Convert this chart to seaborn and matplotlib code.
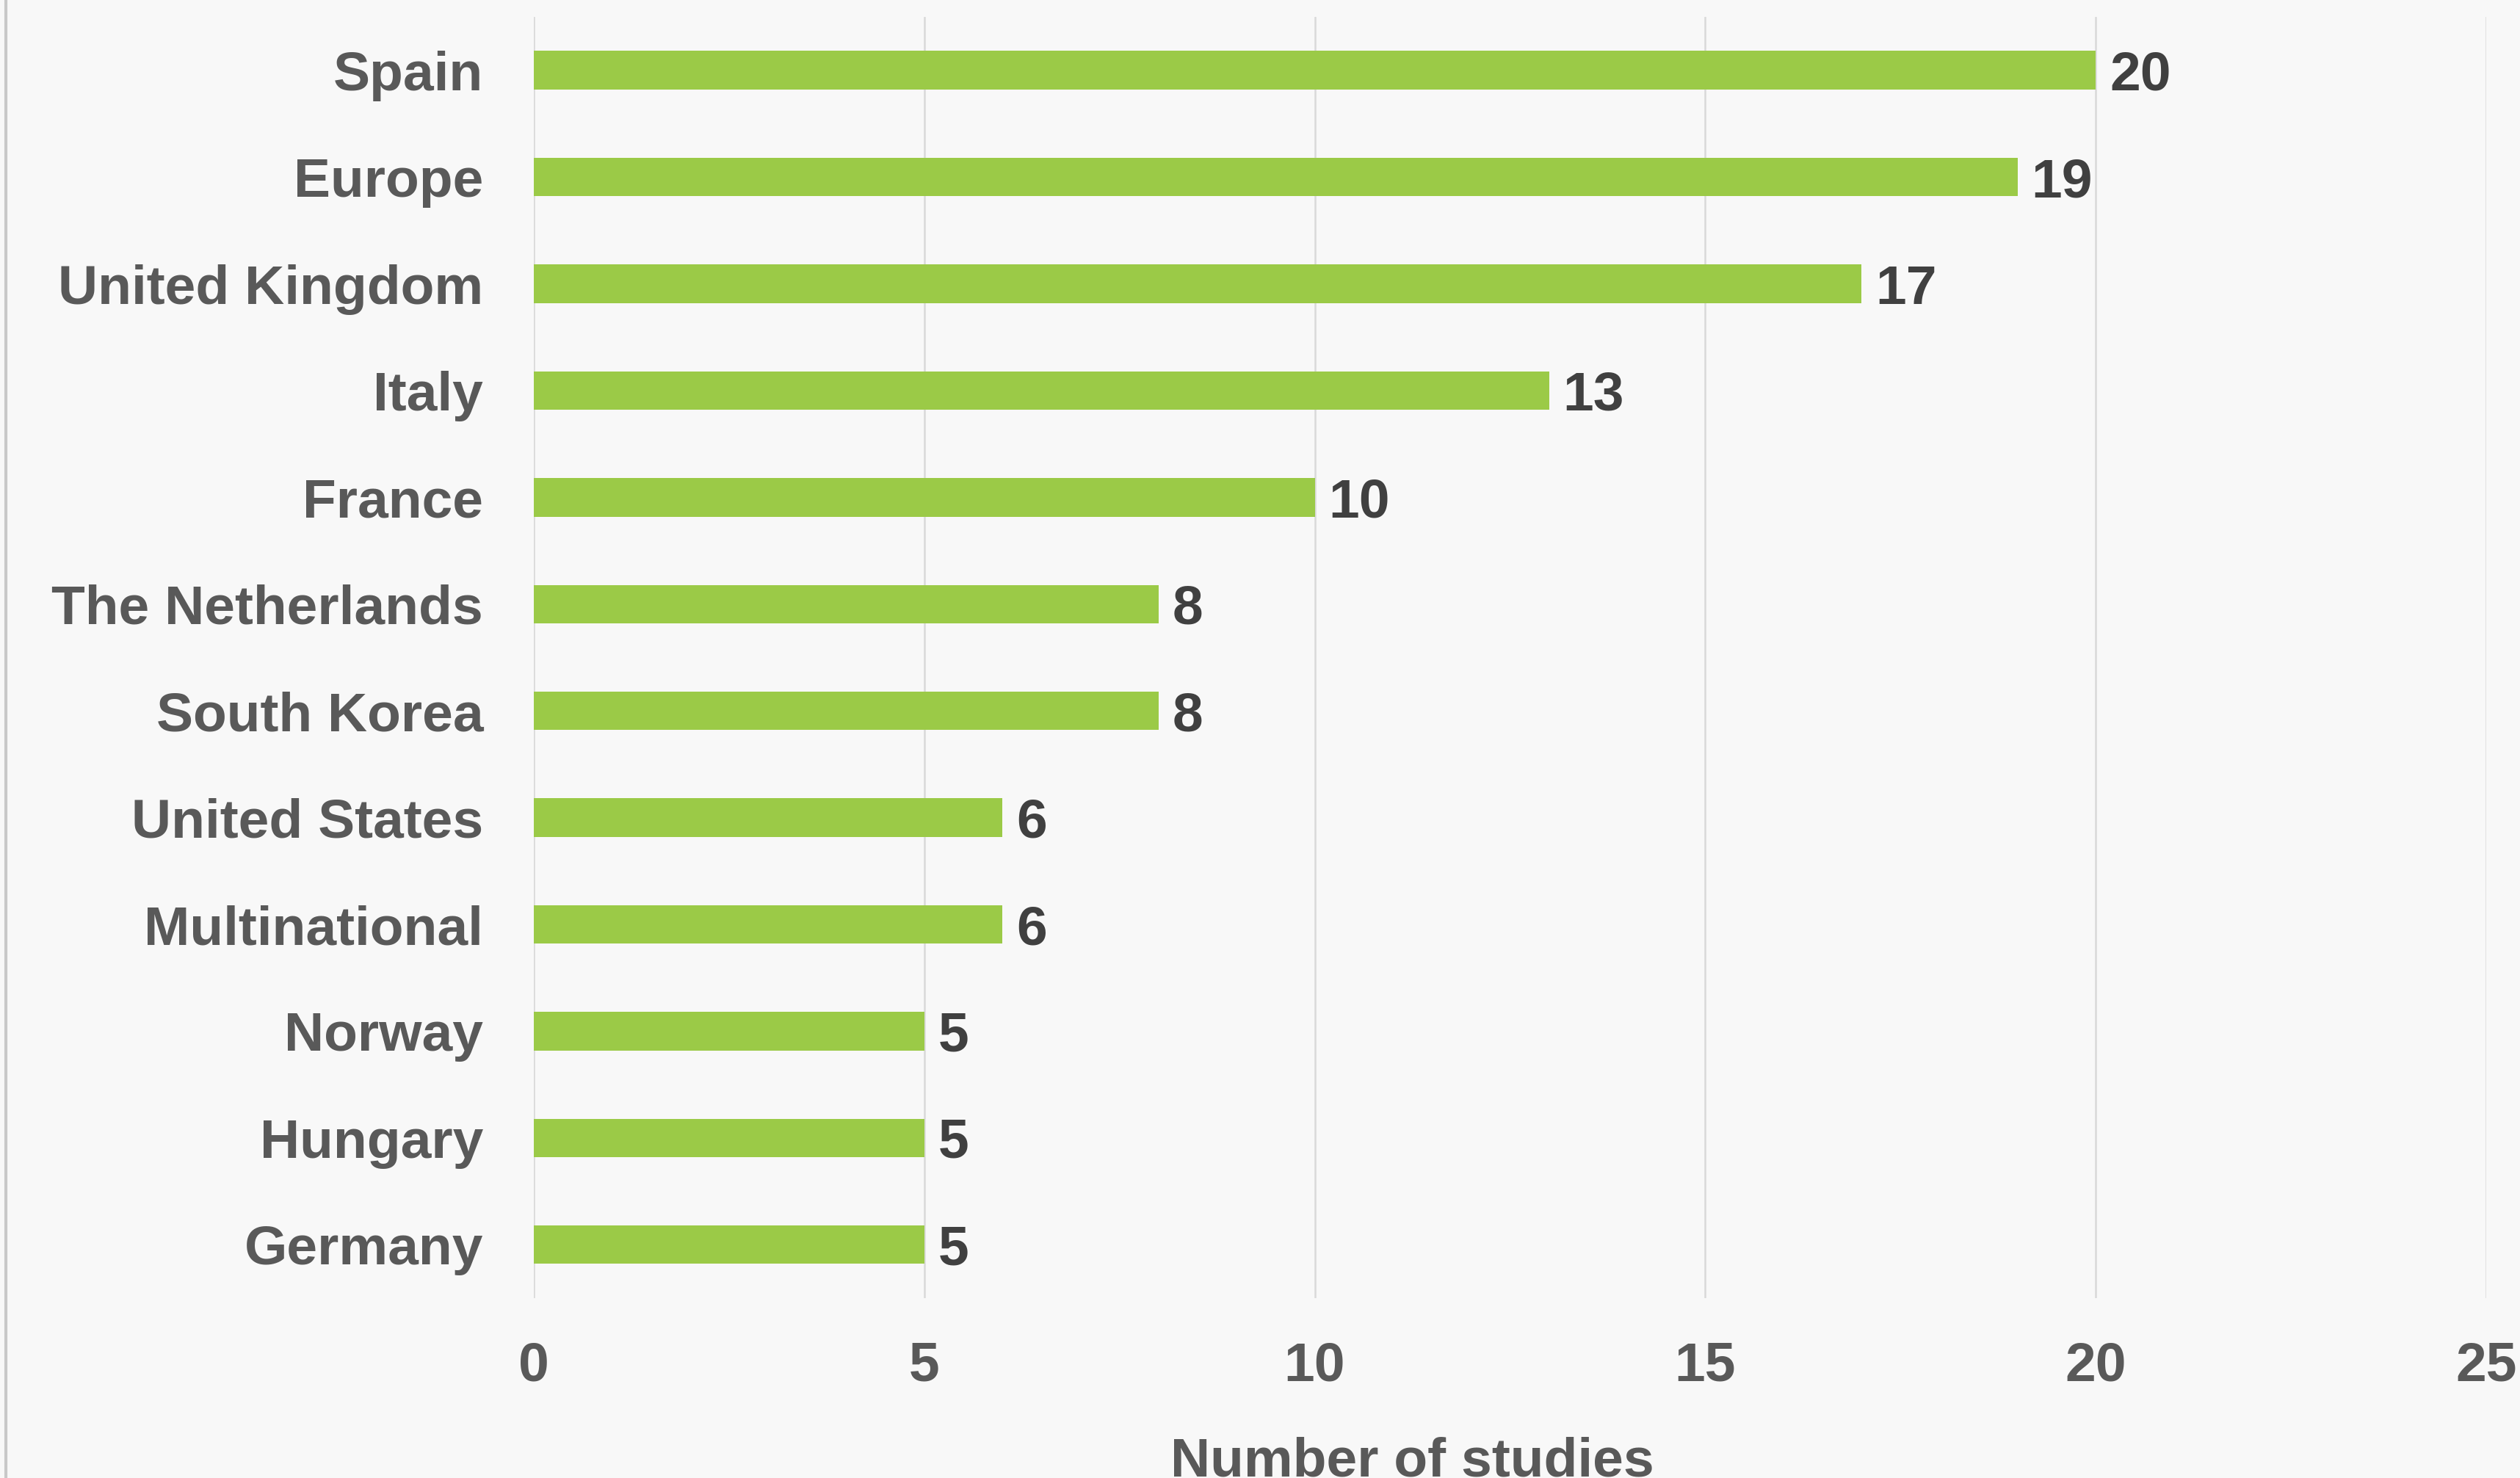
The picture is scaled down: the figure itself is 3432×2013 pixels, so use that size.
import pandas as pd
import matplotlib.pyplot as plt
import seaborn as sns
from matplotlib.lines import Line2D

# ==================== Data ====================
countries = ['Spain', 'Europe', 'United Kingdom', 'Italy', 'France',
             'The Netherlands', 'South Korea', 'United States',
             'Multinational', 'Norway', 'Hungary', 'Germany']
n_studies = [20, 19, 17, 13, 10, 8, 8, 6, 6, 5, 5, 5]
x_ticks = [0, 5, 10, 15, 20, 25]

BG = '#f8f8f8'
BAR = '#9bca47'
GRID = '#d9d9d9'
TICK_COL = '#595959'
VAL_COL = '#404040'

df = pd.DataFrame({'country': countries, 'n': n_studies})

# ==================== Style ====================
sns.set_style('white', {'axes.facecolor': BG, 'figure.facecolor': BG})
plt.rcParams['font.family'] = ['Liberation Sans', 'DejaVu Sans']
plt.rcParams['font.weight'] = 'bold'

fig = plt.figure(figsize=(11.44, 6.71), dpi=300)
ax = fig.add_axes([0.2118, 0.1217, 0.9866 - 0.2118, 0.9886 - 0.1217])

sns.barplot(data=df, x='n', y='country', orient='h', color=BAR,
            width=0.36, saturation=1, edgecolor='none', ax=ax)

ax.set_xlim(0, 25)
ax.set_xticks(x_ticks)
ax.grid(axis='x', color=GRID, linewidth=0.6)
ax.set_axisbelow(True)
for s in ax.spines.values():
    s.set_visible(False)

ax.tick_params(axis='x', length=0, pad=14, labelsize=18, labelcolor=TICK_COL)
ax.tick_params(axis='y', length=0, pad=16.5, labelsize=18, labelcolor=TICK_COL)
for lab in ax.get_xticklabels() + ax.get_yticklabels():
    lab.set_fontweight('bold')

ax.set_ylabel('')
ax.set_xlabel('Number of studies', fontsize=18, fontweight='bold', color=TICK_COL)
ax.xaxis.set_label_coords(0.45, -0.108)

# value labels, centred on the digits rather than the text box
vals = ax.bar_label(ax.containers[0], labels=[str(v) for v in n_studies],
                    padding=4.5, fontsize=18, fontweight='bold', color=VAL_COL)
for t in vals:
    t.set_va('center_baseline')

# left border line of the chart area
fig.add_artist(Line2D([0.0023, 0.0023], [0, 1], transform=fig.transFigure,
                      color='#c8c8c8', linewidth=1.0))

fig.savefig('out.png', dpi=300, facecolor=BG)
